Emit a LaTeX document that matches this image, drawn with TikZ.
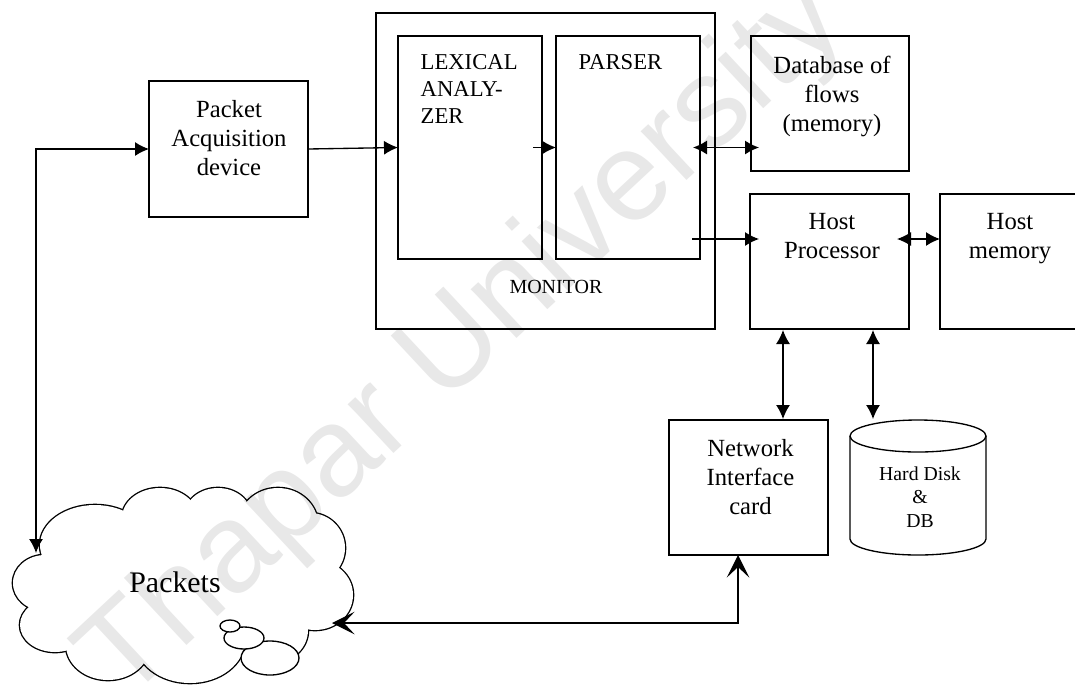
\documentclass[tikz,border=0pt]{standalone}
\usepackage{fontspec}
\setmainfont{Liberation Serif}
\newfontfamily\wmfont{Liberation Sans}
\usetikzlibrary{arrows.meta,calc}
\begin{document}
\begin{tikzpicture}[x=0.75pt,y=0.75pt,line width=1pt,
  box/.style={draw,line width=1pt,inner sep=0pt,outer sep=0pt},
  txt/.style={font=\fontsize{18.5}{21.75}\selectfont,align=center,inner sep=0pt},
  captxt/.style={font=\fontsize{17}{19.9}\selectfont,align=left,inner sep=0pt,anchor=west},
  ltip/.tip={Latex[length=10.5pt,width=10.5pt]},
  stip/.tip={Stealth[length=17pt,width=17pt,inset=8pt]},
  one/.style={-ltip},
  two/.style={ltip-ltip},
  open/.style={stip-stip}]
\useasboundingbox (0,0) rectangle (1075,-687);
\clip (0,0) rectangle (1075,-687);

% cloud body: thick outlines of the puffs, then white interiors
\def\puffs{45/583/32/28, 95/545/55/40, 160/518/38/30, 218/515/33/27,
  278/525/40/37, 310/548/35/35, 315/595/38/35, 275/630/33/32,
  190/640/55/43, 108/645/42/35, 55/625/35/27, 185/585/140/70}
\foreach \cx/\cy/\rx/\ry in \puffs
  \draw[line width=2pt] (\cx,-\cy) ellipse [x radius=\rx, y radius=\ry];
\foreach \cx/\cy/\rx/\ry in \puffs
  \fill[white] (\cx,-\cy) ellipse [x radius=\rx, y radius=\ry];
% thought bubbles
\draw[fill=white] (270,-658) ellipse [x radius=29, y radius=17];
\draw[fill=white] (244,-638) ellipse [x radius=20, y radius=11];
\draw[fill=white] (230,-626) ellipse [x radius=10, y radius=6];

% faint diagonal mark
\node[font=\wmfont\fontsize{95}{95}\selectfont,text=black,opacity=0.09,rotate=43,inner sep=0pt]
  (mark) at (465,-342) {Thapar University};

% blocks
\node[box,minimum width=119.25pt,minimum height=102pt] (pa) at (228.5,-149) {};
\node[box,minimum width=254.25pt,minimum height=237pt] (mon) at (545.5,-171) {};
\node[box,minimum width=108pt,minimum height=167.25pt] (lex) at (470,-147.5) {};
\node[box,minimum width=108pt,minimum height=167.25pt] (parser) at (628,-147.5) {};
\node[box,minimum width=118.5pt,minimum height=101.25pt] (db) at (830,-103.5) {};
\node[box,minimum width=119.25pt,minimum height=101.25pt] (hp) at (829.5,-261.5) {};
\node[box,minimum width=120pt,minimum height=101.25pt] (hm) at (1020,-261.5) {};
\node[box,minimum width=119.25pt,minimum height=101.25pt] (nic) at (748.5,-487.5) {};

% disk cylinder
\draw (850,-436) -- (850,-539) arc [start angle=180, end angle=360, x radius=68, y radius=16]
  -- (986,-436);
\draw (918,-436) ellipse [x radius=68, y radius=16];

% labels
\node[txt] (pat) at (229,-138) {Packet\\Acquisition\\device};
\node[captxt] (lext) at (420,-89) {LEXICAL\\ANALY-\\ZER};
\node[captxt] (part) at (578,-62.5) {PARSER};
\node[font=\fontsize{15}{18}\selectfont,inner sep=0pt] (mont) at (556,-287) {MONITOR};
\node[txt] (dbt) at (832,-96) {Database of\\flows\\(memory)};
\node[txt] (hpt) at (832,-236.5) {Host\\Processor};
\node[txt] (hmt) at (1010,-239) {Host\\memory};
\node[txt] (nict) at (750.5,-477.5) {Network\\Interface\\card};
\node[font=\fontsize{14.8}{17.6}\selectfont,align=center,inner sep=0pt] (hdt) at (920,-497) {Hard Disk\\\&\\DB};
\node[font=\fontsize{22.4}{26}\selectfont,inner sep=0pt] (pkt) at (175,-582) {Packets};

% connector ends on the cloud and the disk
\coordinate (cl1) at (36,-553);
\coordinate (cl2) at (332,-623);
\coordinate (hdtop) at (873,-419);

% connectors
\draw[two] (cl1) |- (pa.west);
\draw[one] (pa.east) -- (lex.west);
\draw[one] ($(lex.east)+(-9,0)$) -- (parser.west);
\draw[two] ($(parser.east)+(-7,0)$) -- ($(parser.east -| db.west)+(8,0)$);
\draw[one] ($(parser.south east)+(-8,20)$) -- ($(hp.north west)+(9,-45)$);
\draw[two] ($(hp.east)+(-12,22.5)$) -- ($(hm.west)+(0,22.5)$);
\draw[two] ($(hp.south west)+(33,-1)$) -- ($(nic.north west)+(114,1)$);
\draw[two] ($(hp.south west)+(123,-1)$) -- (hdtop);
\draw[open] (cl2) -| ($(nic.south west)+(69,0)$);
\end{tikzpicture}
\end{document}
